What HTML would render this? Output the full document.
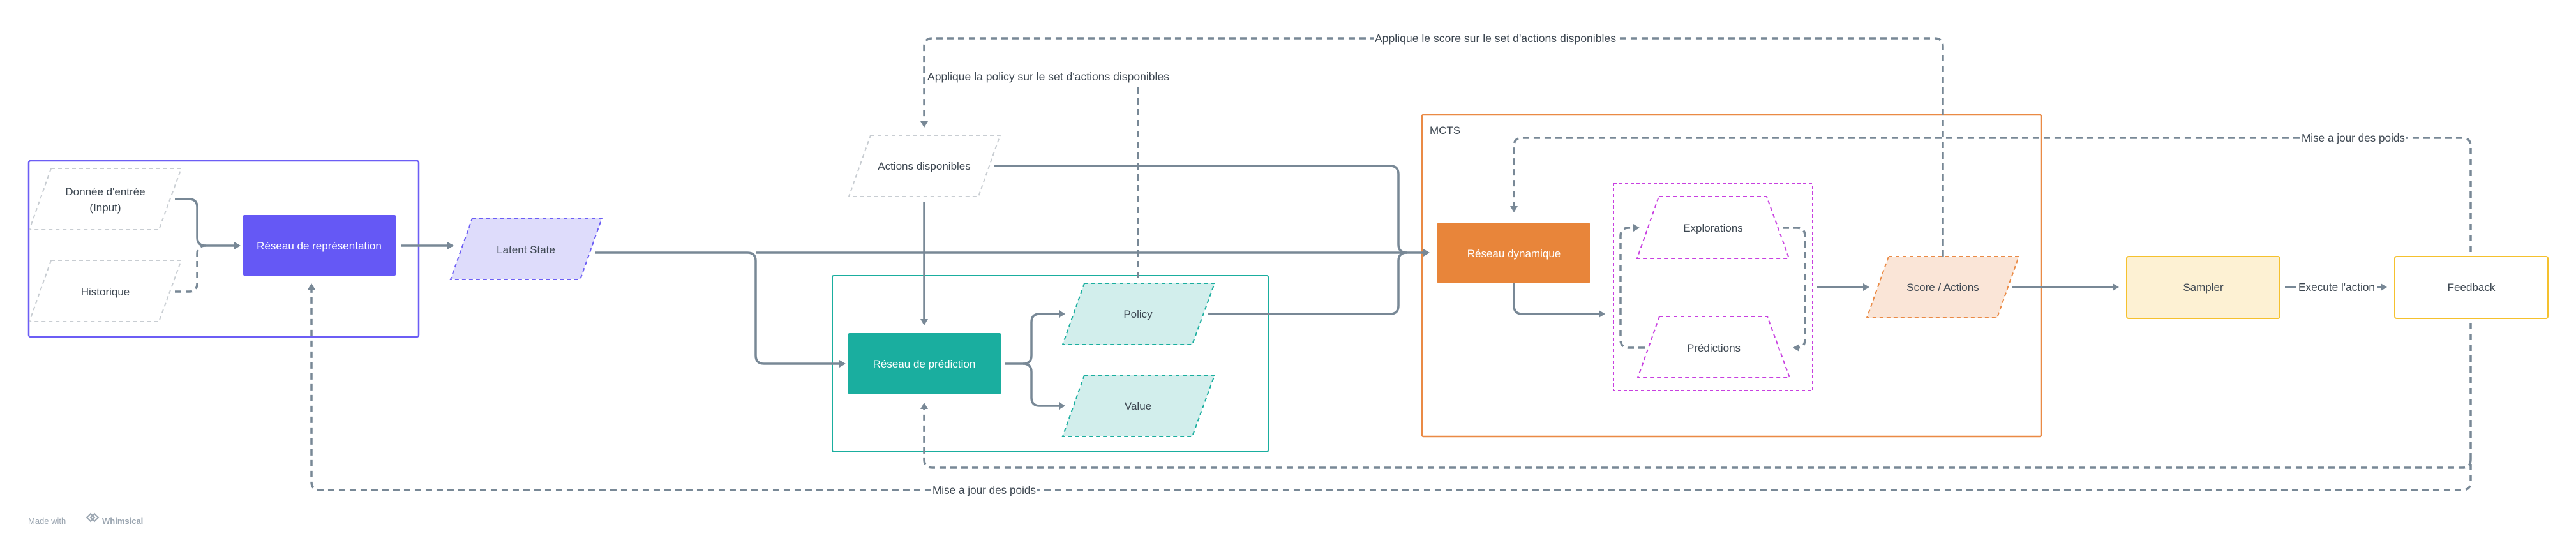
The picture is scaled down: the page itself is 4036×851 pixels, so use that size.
<!DOCTYPE html>
<html><head><meta charset="utf-8"><style>
html,body{margin:0;padding:0;background:#fff;}
svg{display:block;}
text{font-family:"Liberation Sans",sans-serif;}
</style></head><body>
<svg width="4036" height="851" viewBox="0 0 4036 851" xmlns="http://www.w3.org/2000/svg">
<defs>
<marker id="b" markerWidth="12" markerHeight="12" refX="8" refY="6" orient="auto" markerUnits="userSpaceOnUse" viewBox="0 0 12 12">
<path d="M0,0 L10,6 L0,12 Z" fill="#788896"/>
</marker>
</defs>

<rect x="45" y="252" width="611" height="276" rx="3" fill="none" stroke="#6c5ef5" stroke-width="2.5"/>
<rect x="1304" y="432" width="683" height="276" rx="2" fill="none" stroke="#1aae9f" stroke-width="2"/>
<rect x="2228" y="180" width="970" height="504" rx="2" fill="none" stroke="#ea8a45" stroke-width="2.5"/>
<text x="2240" y="210" font-size="17" fill="#3c4650">MCTS</text>
<rect x="2528" y="288" width="312" height="324" fill="none" stroke="#c840e0" stroke-width="2" stroke-dasharray="5,4"/>

<g fill="none" stroke="#788896" stroke-width="3.5" stroke-linejoin="round">
<path d="M274,312 H296 Q309,312 309,325 V372 Q309,385 322,385 H375" marker-end="url(#b)"/>
<path d="M628,385 H709" marker-end="url(#b)"/>
<path d="M932,396 H1171 Q1184,396 1184,409 V557 Q1184,570 1197,570 H1323" marker-end="url(#b)"/>
<path d="M1184,396 H2238" marker-end="url(#b)"/>
<path d="M1558,260 H2178 Q2191,260 2191,273 V383 Q2191,396 2204,396"/>
<path d="M1893,492 H2178 Q2191,492 2191,479 V409 Q2191,396 2204,396"/>
<path d="M1448,316 V508" marker-end="url(#b)"/>
<path d="M1575,570 H1603 Q1616,570 1616,557 V505 Q1616,492 1629,492 H1667" marker-end="url(#b)"/>
<path d="M1603,570 Q1616,570 1616,583 V623 Q1616,636 1629,636 H1667" marker-end="url(#b)"/>
<path d="M2372,444 V479 Q2372,492 2385,492 H2513" marker-end="url(#b)"/>
<path d="M2847,450 H2927" marker-end="url(#b)"/>
<path d="M3153,450 H3318" marker-end="url(#b)"/>
<path d="M3580,450 H3598"/>
<path d="M3724,450 H3738" marker-end="url(#b)"/>
</g>

<g fill="none" stroke="#788896" stroke-width="3.5" stroke-dasharray="10,7">
<path d="M274,457 H296 Q309,457 309,444 V398 Q309,385 322,385"/>
<path d="M3044,402 V73 Q3044,60 3031,60 H1461 Q1448,60 1448,73 V198" marker-end="url(#b)"/>
<path d="M1783,436 V135"/>
<path d="M3871,395 V229 Q3871,216 3858,216 H2385 Q2372,216 2372,229 V331" marker-end="url(#b)"/>
<path d="M3871,506 V755 Q3871,768 3858,768 H501 Q488,768 488,755 V446" marker-end="url(#b)"/>
<path d="M3871,720 Q3871,733 3858,733 H1461 Q1448,733 1448,720 V633" marker-end="url(#b)"/>
<path d="M2577,545 H2552 Q2539,545 2539,532 V370 Q2539,357 2552,357 H2567" marker-end="url(#b)"/>
<path d="M2793,357 H2815 Q2828,357 2828,370 V532 Q2828,545 2815,545 H2811" marker-end="url(#b)"/>
</g>

<rect x="2152" y="49" width="382" height="22" fill="#fff"/>
<text x="2343" y="66" font-size="17.5" fill="#3c4650" text-anchor="middle" textLength="378" lengthAdjust="spacingAndGlyphs">Applique le score sur le set d'actions disponibles</text>
<rect x="1452" y="108" width="382" height="22" fill="#fff"/>
<text x="1453" y="126" font-size="17.5" fill="#3c4650" textLength="379" lengthAdjust="spacingAndGlyphs">Applique la policy sur le set d'actions disponibles</text>
<rect x="3604" y="205" width="166" height="22" fill="#fff"/>
<text x="3687" y="222" font-size="17.5" fill="#3c4650" text-anchor="middle" textLength="162" lengthAdjust="spacingAndGlyphs">Mise a jour des poids</text>
<rect x="1459" y="757" width="166" height="22" fill="#fff"/>
<text x="1542" y="774" font-size="17.5" fill="#3c4650" text-anchor="middle" textLength="162" lengthAdjust="spacingAndGlyphs">Mise a jour des poids</text>
<text x="3661" y="456" font-size="17.5" fill="#3c4650" text-anchor="middle" textLength="120" lengthAdjust="spacingAndGlyphs">Execute l'action</text>

<path d="M80,264 H284 L249,360 H46 Z" fill="#fff" stroke="#c8cdd2" stroke-width="2" stroke-dasharray="6,5"/>
<text x="165" y="306" font-size="17" fill="#3c4650" text-anchor="middle">Donnée d'entrée</text>
<text x="165" y="331" font-size="17" fill="#3c4650" text-anchor="middle">(Input)</text>
<path d="M80,408 H284 L249,504 H46 Z" fill="#fff" stroke="#c8cdd2" stroke-width="2" stroke-dasharray="6,5"/>
<text x="165" y="463" font-size="17" fill="#3c4650" text-anchor="middle">Historique</text>

<rect x="381" y="337" width="239" height="95" rx="2" fill="#6558f5"/>
<text x="500" y="391" font-size="17" fill="#fff" text-anchor="middle">Réseau de représentation</text>

<path d="M740,342 H943 L909,438 H706 Z" fill="#dedcfb" stroke="#6c5ef5" stroke-width="2" stroke-dasharray="6,5"/>
<text x="824" y="397" font-size="17" fill="#3c4650" text-anchor="middle">Latent State</text>

<path d="M1364,212 H1567 L1533,308 H1330 Z" fill="#fff" stroke="#c8cdd2" stroke-width="2" stroke-dasharray="6,5"/>
<text x="1448" y="266" font-size="17" fill="#3c4650" text-anchor="middle">Actions disponibles</text>

<rect x="1329" y="522" width="239" height="96" rx="2" fill="#1aae9f"/>
<text x="1448" y="576" font-size="17" fill="#fff" text-anchor="middle">Réseau de prédiction</text>

<path d="M1699,444 H1903 L1868,540 H1665 Z" fill="#d2eeec" stroke="#1aae9f" stroke-width="2" stroke-dasharray="6,5"/>
<text x="1783" y="498" font-size="17" fill="#3c4650" text-anchor="middle">Policy</text>
<path d="M1699,588 H1903 L1868,684 H1665 Z" fill="#d2eeec" stroke="#1aae9f" stroke-width="2" stroke-dasharray="6,5"/>
<text x="1783" y="642" font-size="17" fill="#3c4650" text-anchor="middle">Value</text>

<rect x="2252" y="349" width="239" height="95" rx="2" fill="#e8853a"/>
<text x="2372" y="403" font-size="17" fill="#fff" text-anchor="middle">Réseau dynamique</text>

<path d="M2599,308 H2768 L2803,405 H2565 Z" fill="#fff" stroke="#c840e0" stroke-width="2" stroke-dasharray="6,5"/>
<text x="2684" y="363" font-size="17" fill="#3c4650" text-anchor="middle">Explorations</text>
<path d="M2600,496 H2769 L2804,592 H2566 Z" fill="#fff" stroke="#c840e0" stroke-width="2" stroke-dasharray="6,5"/>
<text x="2685" y="551" font-size="17" fill="#3c4650" text-anchor="middle">Prédictions</text>

<path d="M2959,402 H3163 L3129,498 H2925 Z" fill="#fae5d7" stroke="#ea8a45" stroke-width="2" stroke-dasharray="6,5"/>
<text x="3044" y="456" font-size="17" fill="#3c4650" text-anchor="middle">Score / Actions</text>

<rect x="3332" y="402" width="240" height="97" rx="3" fill="#fdf1d3" stroke="#f5c12e" stroke-width="2"/>
<text x="3452" y="456" font-size="17" fill="#3c4650" text-anchor="middle">Sampler</text>
<rect x="3752" y="402" width="240" height="97" rx="3" fill="#fff" stroke="#f5c12e" stroke-width="2"/>
<text x="3872" y="456" font-size="17" fill="#3c4650" text-anchor="middle">Feedback</text>

<text x="44" y="821" font-size="13" fill="#9aa5b0">Made with</text>
<path d="M136,811 l6,-6 l6,6 l-6,6 Z M142,811 l6,-6 l6,6 l-6,6 Z" fill="none" stroke="#9aa5b0" stroke-width="2"/>
<text x="160" y="821" font-size="13" fill="#9aa5b0" font-weight="bold">Whimsical</text>
</svg>
</body></html>
